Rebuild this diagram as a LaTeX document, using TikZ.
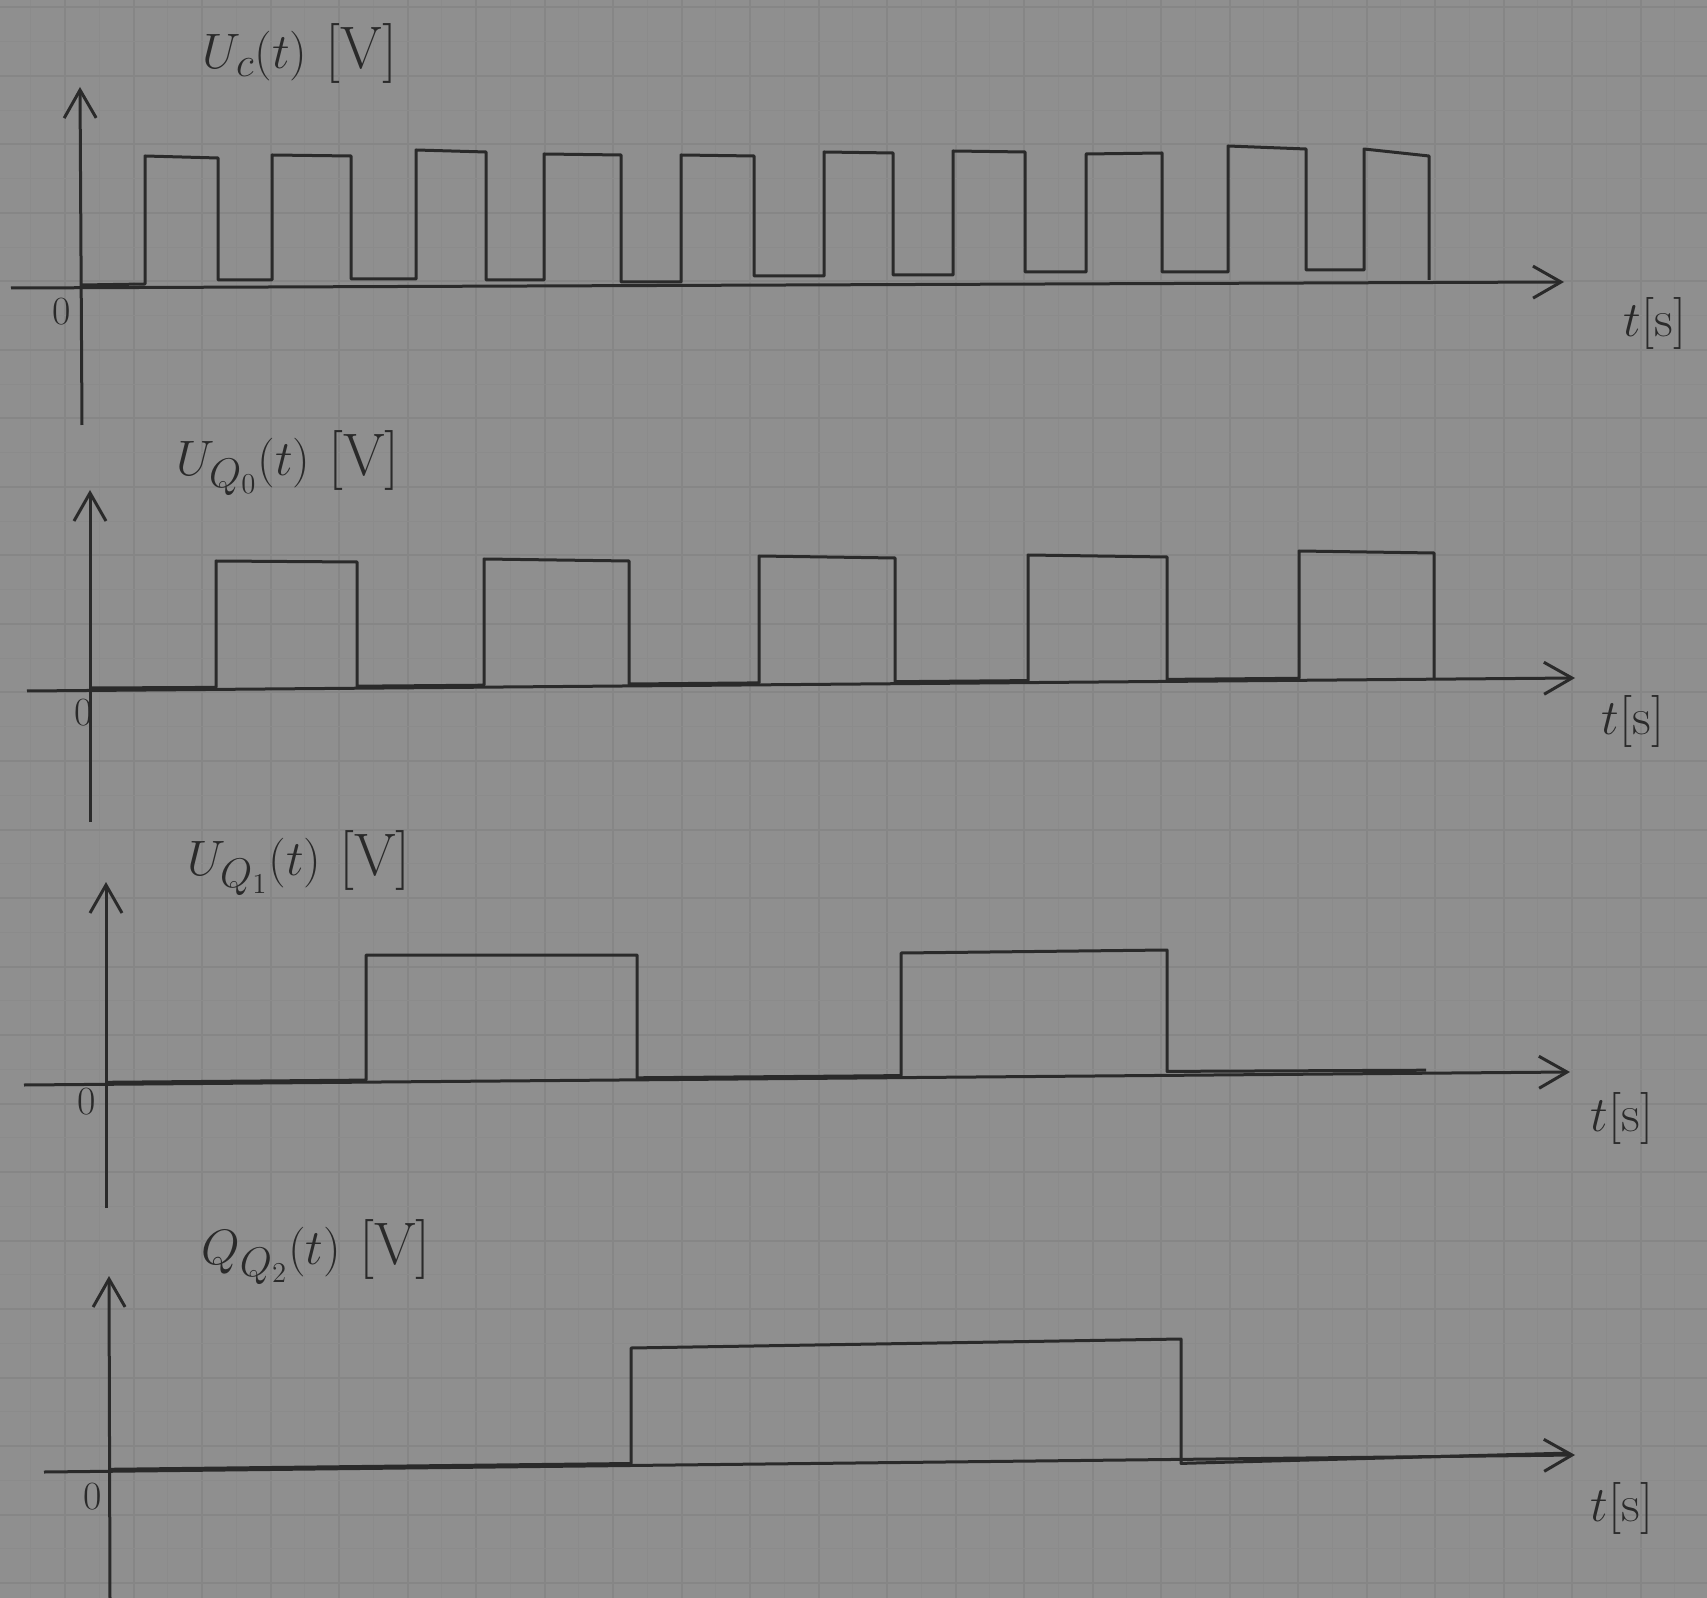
\documentclass[tikz,border=0pt]{standalone}
\usetikzlibrary{arrows.meta}
\definecolor{paper}{HTML}{8F8F8F}
\definecolor{gridc}{HTML}{868686}
\definecolor{gridm}{HTML}{8B8B8B}
\definecolor{ink}{HTML}{2A2A2A}
\tikzset{
  sig/.style={draw=ink, line width=1.5pt, line join=round},
  axis/.style={draw=ink, line width=1.5pt, -{Straight Barb[length=14pt,width=16pt,line width=1.5pt]}},
  lbl/.style={text=ink, font=\fontsize{30}{34}\selectfont, inner sep=0pt},
  tlbl/.style={text=ink, font=\fontsize{26}{30}\selectfont, inner sep=0pt},
  zlbl/.style={text=ink, font=\fontsize{20}{24}\selectfont, inner sep=0pt}
}
\begin{document}
\begin{tikzpicture}[x=0.5pt,y=-0.5pt]
\useasboundingbox (0,0) rectangle (1707,1598);
\fill[paper] (0,0) rectangle (1707,1598);
% grid paper
\foreach \i in {0,...,25} {
  \draw[gridm, line width=0.6pt] ({30.75+68.5*\i},0) -- ({30.75+68.5*\i},1598);
  \draw[gridc, line width=1pt] ({65+68.5*\i},0) -- ({65+68.5*\i},1598);
}
\foreach \j in {0,...,24} {
  \draw[gridm, line width=0.6pt] (0,{41.75+68.5*\j}) -- (1707,{41.75+68.5*\j});
  \draw[gridc, line width=1pt] (0,{7.5+68.5*\j}) -- (1707,{7.5+68.5*\j});
}

% ---------------- Plot 1: U_c ----------------
\coordinate (y1b) at (82,425);
\coordinate (y1t) at (80,87);
\coordinate (x1l) at (11,288);
\coordinate (x1r) at (1564,282);
\draw[axis] (y1b) -- (y1t);
\draw[axis] (x1l) -- (x1r);
\node[lbl] (l1) at (300,54) {$U_c(t)$ [V]};
\node[tlbl] (t1) at (1655,324) {$t$[s]};
\node[zlbl] (z1) at (62,312) {0};
\draw[sig] (82,285) -- (145,284) -- (145,156) -- (218,158) -- (218,280)
  -- (272,280) -- (272,155) -- (351,156) -- (351,279)
  -- (416,279) -- (416,150) -- (486,152) -- (486,280)
  -- (544,280) -- (544,154) -- (621,155) -- (621,282)
  -- (681,282) -- (681,155) -- (754,156) -- (754,276)
  -- (824,276) -- (824,152) -- (893,153) -- (893,275)
  -- (953,275) -- (953,151) -- (1025,152) -- (1025,272)
  -- (1086,272) -- (1086,154) -- (1162,153) -- (1162,272)
  -- (1228,272) -- (1228,146) -- (1306,149) -- (1306,270)
  -- (1364,270) -- (1364,149) -- (1429,156) -- (1429,280);

% ---------------- Plot 2: U_Q0 ----------------
\coordinate (y2b) at (90,822);
\coordinate (y2t) at (90,490);
\coordinate (x2l) at (27,691);
\coordinate (x2r) at (1575,678);
\draw[axis] (y2b) -- (y2t);
\draw[axis] (x2l) -- (x2r);
\node[lbl] (l2) at (288,463) {$U_{Q_0}(t)$ [V]};
\node[tlbl] (t2) at (1633,721) {$t$[s]};
\node[zlbl] (z2) at (84,713) {0};
\draw[sig] (90,688) -- (216,687.4) -- (216,561) -- (357,562) -- (357,686.2)
  -- (484,685.2) -- (484,559) -- (629,561) -- (629,684)
  -- (759,682.9) -- (759,556) -- (895,558) -- (895,681.7)
  -- (1028,680.6) -- (1028,555) -- (1167,557) -- (1167,679.4)
  -- (1299,678.3) -- (1299,551) -- (1434,553) -- (1434,679);

% ---------------- Plot 3: U_Q1 ----------------
\coordinate (y3b) at (106,1208);
\coordinate (y3t) at (106,882);
\coordinate (x3l) at (24,1085);
\coordinate (x3r) at (1570,1072);
\draw[axis] (y3b) -- (y3t);
\draw[axis] (x3l) -- (x3r);
\node[lbl] (l3) at (299,863) {$U_{Q_1}(t)$ [V]};
\node[tlbl] (t3) at (1622,1118) {$t$[s]};
\node[zlbl] (z3) at (87,1102) {0};
\draw[sig] (106,1082.3) -- (366,1080.1) -- (366,955) -- (637,955) -- (637,1077.8)
  -- (901,1075.6) -- (901,953) -- (1167,950) -- (1167,1071.4)
  -- (1426,1070.2);

% ---------------- Plot 4: Q_Q2 ----------------
\coordinate (y4b) at (110,1598);
\coordinate (y4t) at (109,1276);
\coordinate (x4l) at (44,1472);
\coordinate (x4r) at (1575,1455);
\draw[axis] (y4b) -- (y4t);
\draw[axis] (x4l) -- (x4r);
\node[lbl] (l4) at (316,1252) {$Q_{Q_2}(t)$ [V]};
\node[tlbl] (t4) at (1622,1508) {$t$[s]};
\node[zlbl] (z4) at (93,1497) {0};
\draw[sig] (109,1469.3) -- (631,1463.5) -- (631,1348) -- (1181,1339) -- (1181,1463.4)
  -- (1568,1453.1);
\end{tikzpicture}
\end{document}
